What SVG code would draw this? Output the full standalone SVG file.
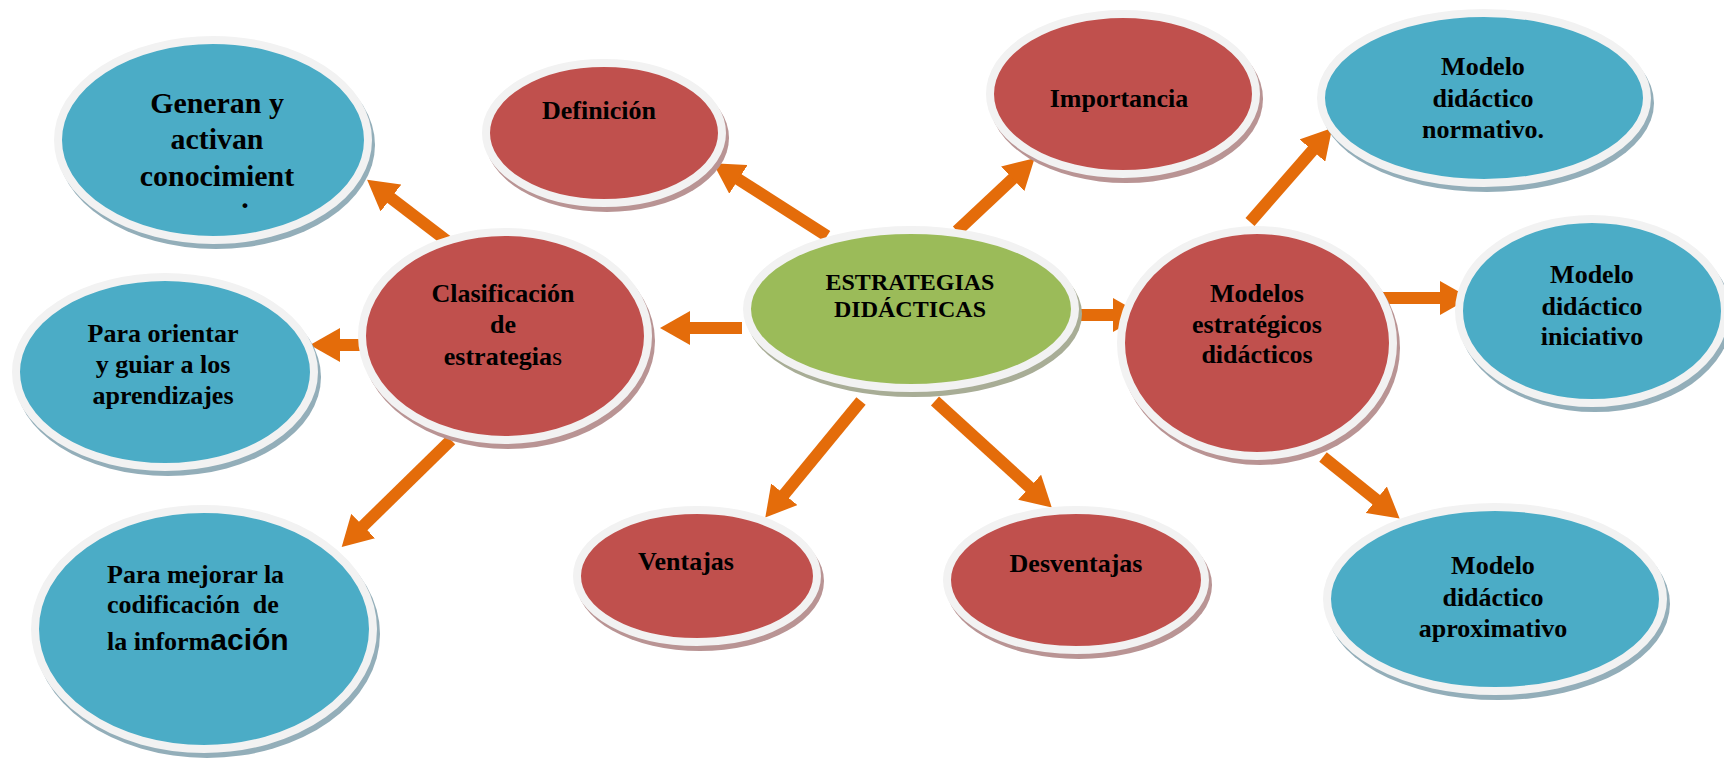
<svg xmlns="http://www.w3.org/2000/svg" width="1724" height="759" viewBox="0 0 1724 759">
<style>
.n{stroke:#F2F2F2;stroke-width:8}
.blue{fill:#4BACC6}
.red{fill:#C0504D}
.green{fill:#9BBB59}
.sb{fill:#93AEB9}
.sr{fill:#B99494}
.sg{fill:#A8AD96}
.t{font-family:"Liberation Serif","Times New Roman",serif;font-weight:bold;font-size:26px;fill:#000;text-anchor:middle}
.mid{font-family:"Liberation Serif","Times New Roman",serif;font-weight:bold;font-size:24px;fill:#000;text-anchor:middle}
.c{stroke:#E46C0A;stroke-width:12;fill:none;marker-end:url(#ah)}
</style>
<defs>
<marker id="ah" viewBox="0 0 30 34" refX="10" refY="17" markerWidth="30" markerHeight="34" markerUnits="userSpaceOnUse" orient="auto">
<path d="M0,0 L30,17 L0,34 z" fill="#E46C0A"/>
</marker>
</defs>
<rect width="1724" height="759" fill="#FFFFFF"/>
<g id="connectors">
<line class="c" x1="827" y1="236" x2="730" y2="174"/>
<line class="c" x1="957" y1="231" x2="1020" y2="172"/>
<line class="c" x1="742" y1="328" x2="680" y2="328"/>
<line class="c" x1="1057" y1="315" x2="1123" y2="315"/>
<line class="c" x1="861" y1="401" x2="778" y2="502"/>
<line class="c" x1="935" y1="401" x2="1037" y2="494"/>
<line class="c" x1="451" y1="244" x2="383" y2="192"/>
<line class="c" x1="370" y1="345" x2="330" y2="345"/>
<line class="c" x1="451" y1="440" x2="356" y2="533"/>
<line class="c" x1="1250" y1="222" x2="1319" y2="143"/>
<line class="c" x1="1377" y1="298" x2="1450" y2="298"/>
<line class="c" x1="1323" y1="457" x2="1384" y2="506"/>
</g>
<g id="n-generan">
<ellipse class="sb" cx="216" cy="145" rx="159" ry="104"/>
<ellipse class="n blue" cx="213" cy="140" rx="155" ry="100"/>
<text class="t" transform="translate(217,113) scale(1.15)" x="0" y="0">Generan y</text>
<text class="t" transform="translate(217,149) scale(1.15)" x="0" y="0">activan</text>
<text class="t" transform="translate(217,186) scale(1.15)" x="0" y="0">conocimient</text>
<text class="t" transform="translate(245,208) scale(1.15)" x="0" y="0">.</text>
</g>
<g id="n-definicion">
<ellipse class="sr" cx="607" cy="138" rx="122" ry="74"/>
<ellipse class="n red" cx="604" cy="133" rx="118" ry="70"/>
<text class="t" x="599" y="119">Definición</text>
</g>
<g id="n-importancia">
<ellipse class="sr" cx="1126" cy="99" rx="137" ry="84"/>
<ellipse class="n red" cx="1123" cy="94" rx="133" ry="80"/>
<text class="t" x="1119" y="107">Importancia</text>
</g>
<g id="n-normativo">
<ellipse class="sb" cx="1487" cy="103" rx="167" ry="89"/>
<ellipse class="n blue" cx="1484" cy="98" rx="163" ry="85"/>
<text class="t" x="1483" y="75">Modelo</text>
<text class="t" x="1483" y="107">didáctico</text>
<text class="t" x="1483" y="138">normativo.</text>
</g>
<g id="n-centro">
<ellipse class="sg" cx="914" cy="314" rx="168" ry="83"/>
<ellipse class="n green" cx="911" cy="309" rx="164" ry="79"/>
<text class="mid" x="910" y="290">ESTRATEGIAS</text>
<text class="mid" x="910" y="317">DIDÁCTICAS</text>
</g>
<g id="n-clasificacion">
<ellipse class="sr" cx="508" cy="341" rx="147" ry="108"/>
<ellipse class="n red" cx="505" cy="336" rx="143" ry="104"/>
<text class="t" x="503" y="302">Clasificación</text>
<text class="t" x="503" y="333">de</text>
<text class="t" x="503" y="365">estrategia<tspan font-weight="normal">s</tspan></text>
</g>
<g id="n-orientar">
<ellipse class="sb" cx="168" cy="377" rx="153" ry="99"/>
<ellipse class="n blue" cx="165" cy="372" rx="149" ry="95"/>
<text class="t" x="163" y="342">Para orientar</text>
<text class="t" x="163" y="373">y guiar a los</text>
<text class="t" x="163" y="404">aprendizajes</text>
</g>
<g id="n-mejorar">
<ellipse class="sb" cx="207" cy="634" rx="173" ry="124"/>
<ellipse class="n blue" cx="204" cy="629" rx="169" ry="120"/>
<text class="t" style="text-anchor:start" x="107" y="583">Para mejorar la</text>
<text class="t" style="text-anchor:start;white-space:pre" x="107" y="613">codificación  de</text>
<text class="t" style="text-anchor:start" x="107" y="650">la inform<tspan style="font-family:'Liberation Sans',Arial,sans-serif;font-size:30px">ación</tspan></text>
</g>
<g id="n-modelos">
<ellipse class="sr" cx="1260" cy="348" rx="140" ry="117"/>
<ellipse class="n red" cx="1257" cy="343" rx="136" ry="113"/>
<text class="t" x="1257" y="302">Modelos</text>
<text class="t" x="1257" y="333">estratégicos</text>
<text class="t" x="1257" y="363">didácticos</text>
</g>
<g id="n-iniciativo">
<ellipse class="sb" cx="1595" cy="316" rx="137" ry="96"/>
<ellipse class="n blue" cx="1592" cy="311" rx="133" ry="92"/>
<text class="t" x="1592" y="283">Modelo</text>
<text class="t" x="1592" y="315">didáctico</text>
<text class="t" x="1592" y="345">iniciativo</text>
</g>
<g id="n-aproximativo">
<ellipse class="sb" cx="1498" cy="604" rx="172" ry="96"/>
<ellipse class="n blue" cx="1495" cy="599" rx="168" ry="92"/>
<text class="t" x="1493" y="574">Modelo</text>
<text class="t" x="1493" y="606">didáctico</text>
<text class="t" x="1493" y="637">aproximativo</text>
</g>
<g id="n-ventajas">
<ellipse class="sr" cx="700" cy="581" rx="124" ry="70"/>
<ellipse class="n red" cx="697" cy="576" rx="120" ry="66"/>
<text class="t" x="686" y="570">Ventajas</text>
</g>
<g id="n-desventajas">
<ellipse class="sr" cx="1079" cy="585" rx="133" ry="74"/>
<ellipse class="n red" cx="1076" cy="580" rx="129" ry="70"/>
<text class="t" x="1076" y="572">Desventajas</text>
</g>
</svg>
